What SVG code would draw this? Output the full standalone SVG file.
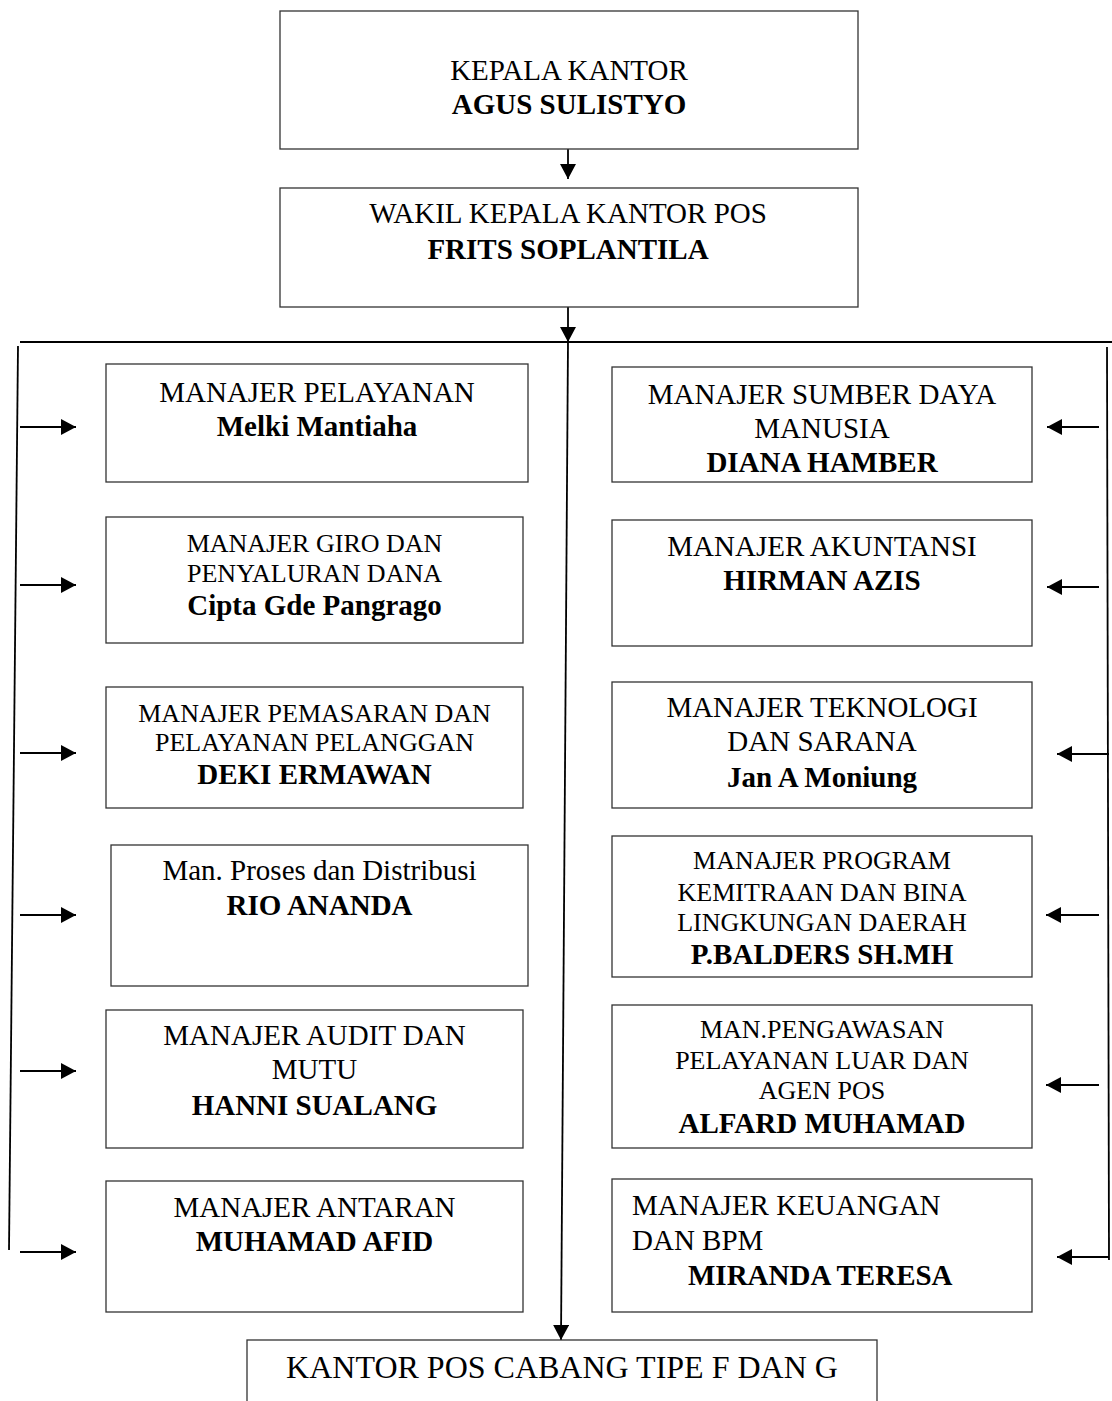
<svg xmlns="http://www.w3.org/2000/svg" width="1112" height="1401" viewBox="0 0 1112 1401">
<style>
.box{fill:#fff;stroke:#333;stroke-width:1.3}
text{font-family:"Liberation Serif","Times New Roman",serif;fill:#000;text-anchor:middle}
.t{font-size:29px}
.s{font-size:26px}
.b{font-size:29px;font-weight:bold}
.l{text-anchor:start}
.c{stroke:#000;stroke-width:1.8;fill:none}
</style>
<defs>
<marker id="ah" viewBox="0 0 15 16" refX="15" refY="8" markerWidth="15" markerHeight="16" markerUnits="userSpaceOnUse" orient="auto">
<path d="M0,0 L15,8 L0,16 Z" fill="#000"/>
</marker>
</defs>
<rect width="1112" height="1401" fill="#fff"/>
<g id="connectors">
<line class="c" x1="568" y1="134" x2="568" y2="179" marker-end="url(#ah)"/>
<line class="c" x1="568" y1="298" x2="568" y2="342" marker-end="url(#ah)"/>
<line class="c" x1="20" y1="342" x2="1112" y2="342"/>
<line class="c" x1="18" y1="346" x2="9" y2="1250"/>
<line class="c" x1="1107" y1="347" x2="1109" y2="1260"/>
<line class="c" x1="568" y1="342" x2="561" y2="1340" marker-end="url(#ah)"/>
<line class="c" x1="20" y1="427" x2="76" y2="427" marker-end="url(#ah)"/>
<line class="c" x1="20" y1="585" x2="76" y2="585" marker-end="url(#ah)"/>
<line class="c" x1="20" y1="753" x2="76" y2="753" marker-end="url(#ah)"/>
<line class="c" x1="20" y1="915" x2="76" y2="915" marker-end="url(#ah)"/>
<line class="c" x1="20" y1="1071" x2="76" y2="1071" marker-end="url(#ah)"/>
<line class="c" x1="20" y1="1252" x2="76" y2="1252" marker-end="url(#ah)"/>
<line class="c" x1="1099" y1="427" x2="1047" y2="427" marker-end="url(#ah)"/>
<line class="c" x1="1099" y1="587" x2="1047" y2="587" marker-end="url(#ah)"/>
<line class="c" x1="1109" y1="754" x2="1057" y2="754" marker-end="url(#ah)"/>
<line class="c" x1="1099" y1="915" x2="1046" y2="915" marker-end="url(#ah)"/>
<line class="c" x1="1099" y1="1085" x2="1046" y2="1085" marker-end="url(#ah)"/>
<line class="c" x1="1109" y1="1257" x2="1057" y2="1257" marker-end="url(#ah)"/>
</g>
<g id="kepala">
<rect class="box" x="280" y="11" width="578" height="138"/>
<text class="t" x="569" y="80">KEPALA KANTOR</text>
<text class="b" x="569" y="114">AGUS SULISTYO</text>
</g>
<g id="wakil">
<rect class="box" x="280" y="188" width="578" height="119"/>
<text class="t" x="568" y="223">WAKIL KEPALA KANTOR POS</text>
<text class="b" x="568" y="259">FRITS SOPLANTILA</text>
</g>
<g id="pelayanan">
<rect class="box" x="106" y="364" width="422" height="118"/>
<text class="t" x="317" y="402">MANAJER PELAYANAN</text>
<text class="b" x="317" y="436">Melki Mantiaha</text>
</g>
<g id="giro">
<rect class="box" x="106" y="517" width="417" height="126"/>
<text class="s" x="314.5" y="552">MANAJER GIRO DAN</text>
<text class="s" x="314.5" y="582">PENYALURAN DANA</text>
<text class="b" x="314.5" y="615">Cipta Gde Pangrago</text>
</g>
<g id="pemasaran">
<rect class="box" x="106" y="687" width="417" height="121"/>
<text class="s" x="314.5" y="722">MANAJER PEMASARAN DAN</text>
<text class="s" x="314.5" y="751">PELAYANAN PELANGGAN</text>
<text class="b" x="314.5" y="784">DEKI ERMAWAN</text>
</g>
<g id="proses">
<rect class="box" x="111" y="845" width="417" height="141"/>
<text class="t" x="319.5" y="880">Man. Proses dan Distribusi</text>
<text class="b" x="319.5" y="915">RIO ANANDA</text>
</g>
<g id="audit">
<rect class="box" x="106" y="1010" width="417" height="138"/>
<text class="t" x="314.5" y="1045">MANAJER AUDIT DAN</text>
<text class="t" x="314.5" y="1079">MUTU</text>
<text class="b" x="314.5" y="1115">HANNI SUALANG</text>
</g>
<g id="antaran">
<rect class="box" x="106" y="1181" width="417" height="131"/>
<text class="t" x="314.5" y="1217">MANAJER ANTARAN</text>
<text class="b" x="314.5" y="1251">MUHAMAD AFID</text>
</g>
<g id="sdm">
<rect class="box" x="612" y="367" width="420" height="115"/>
<text class="t" x="822" y="404">MANAJER SUMBER DAYA</text>
<text class="t" x="822" y="438">MANUSIA</text>
<text class="b" x="822" y="472">DIANA HAMBER</text>
</g>
<g id="akuntansi">
<rect class="box" x="612" y="520" width="420" height="126"/>
<text class="t" x="822" y="556">MANAJER AKUNTANSI</text>
<text class="b" x="822" y="590">HIRMAN AZIS</text>
</g>
<g id="teknologi">
<rect class="box" x="612" y="682" width="420" height="126"/>
<text class="t" x="822" y="717">MANAJER TEKNOLOGI</text>
<text class="t" x="822" y="751">DAN SARANA</text>
<text class="b" x="822" y="787">Jan A Moniung</text>
</g>
<g id="program">
<rect class="box" x="612" y="836" width="420" height="141"/>
<text class="s" x="822" y="869">MANAJER PROGRAM</text>
<text class="s" x="822" y="901">KEMITRAAN DAN BINA</text>
<text class="s" x="822" y="931">LINGKUNGAN DAERAH</text>
<text class="b" x="822" y="964">P.BALDERS SH.MH</text>
</g>
<g id="pengawasan">
<rect class="box" x="612" y="1005" width="420" height="143"/>
<text class="s" x="822" y="1038">MAN.PENGAWASAN</text>
<text class="s" x="822" y="1069">PELAYANAN LUAR DAN</text>
<text class="s" x="822" y="1099">AGEN POS</text>
<text class="b" x="822" y="1133">ALFARD MUHAMAD</text>
</g>
<g id="keuangan">
<rect class="box" x="612" y="1179" width="420" height="133"/>
<text class="t l" x="632" y="1215">MANAJER KEUANGAN</text>
<text class="t l" x="632" y="1250">DAN BPM</text>
<text class="b l" x="688" y="1285">MIRANDA TERESA</text>
</g>
<g id="cabang">
<rect class="box" x="247" y="1340" width="630" height="80"/>
<text x="562" y="1378" style="font-size:32px">KANTOR POS CABANG TIPE F DAN G</text>
</g>
</svg>
